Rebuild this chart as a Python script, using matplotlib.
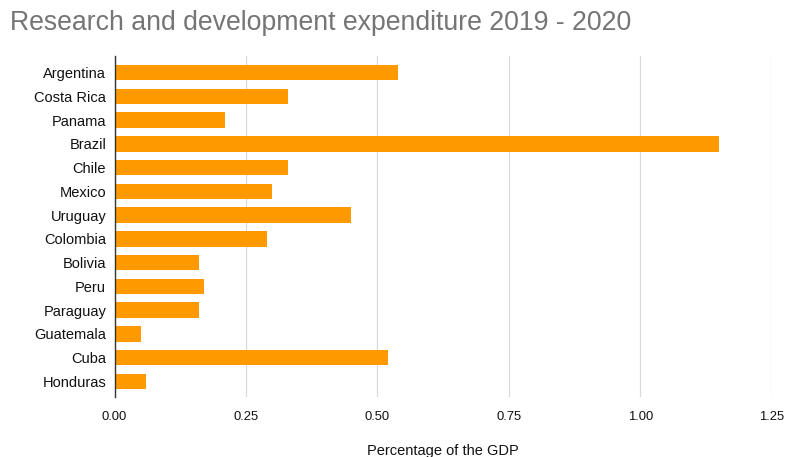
import matplotlib
matplotlib.use('Agg')
import matplotlib.pyplot as plt

''' Data '''
countries = ['Argentina', 'Costa Rica', 'Panama', 'Brazil', 'Chile', 'Mexico',
             'Uruguay', 'Colombia', 'Bolivia', 'Peru', 'Paraguay', 'Guatemala',
             'Cuba', 'Honduras']
gdp_share = [0.54, 0.33, 0.21, 1.15, 0.33, 0.30, 0.45, 0.29, 0.16, 0.17,
             0.16, 0.05, 0.52, 0.06]
x_ticks = [0.0, 0.25, 0.5, 0.75, 1.0, 1.25]
x_tick_labels = ['0.00', '0.25', '0.50', '0.75', '1.00', '1.25']

plt.rcParams['font.family'] = ['Liberation Sans', 'DejaVu Sans']

fig = plt.figure(figsize=(7.85, 4.57), dpi=100)
ax = fig.add_axes([0.1459, 0.132, 0.8372, 0.7455])

pos = list(range(len(countries)))
ax.barh(pos, gdp_share, height=0.65, color='#ff9900', zorder=3)
ax.set_ylim(len(countries) - 1 + 0.64, -0.7)
ax.set_xlim(0, 1.25)
ax.set_yticks(pos)
ax.set_yticklabels(countries, fontsize=10.5, color='#111111')
ax.set_xticks(x_ticks)
ax.set_xticklabels(x_tick_labels, fontsize=9.4, color='#111111')
ax.tick_params(length=0, pad=6)
ax.tick_params(axis='x', pad=10)

ax.grid(axis='x', color='#d9d9d9', linewidth=0.9, zorder=0)
for s in ['top', 'right', 'bottom']:
    ax.spines[s].set_visible(False)
ax.spines['left'].set_color('#333333')
ax.spines['left'].set_linewidth(1.0)
ax.spines['left'].set_zorder(4)

# x axis title sits at the very bottom edge, partly clipped as in the source
fig.text(0.5643, 1 - 443.5 / 457, 'Percentage of the GDP', fontsize=10.5,
         color='#111111', ha='center', va='top')

fig.text(0.0125, 1 - 23 / 457, 'Research and development expenditure 2019 - 2020',
         fontsize=19.2, color='#757575', va='center', ha='left')

fig.savefig('out.png', dpi=100)
